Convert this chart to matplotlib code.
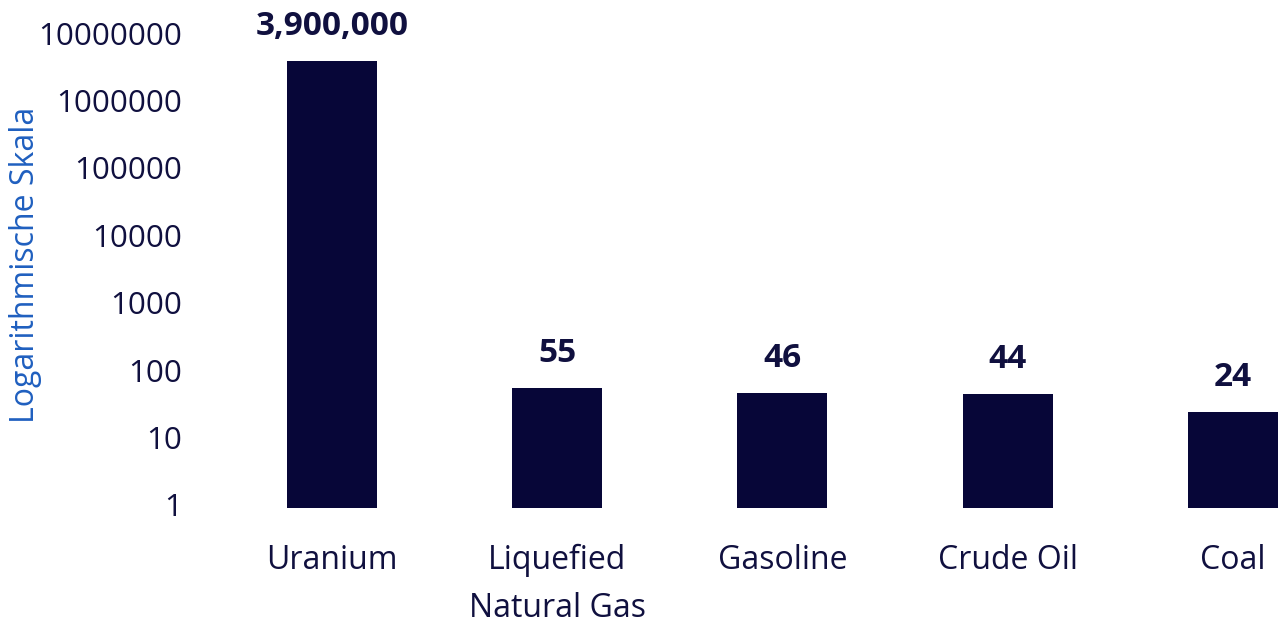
import matplotlib
matplotlib.use("Agg")
import matplotlib.pyplot as plt
from matplotlib.ticker import FixedLocator, FixedFormatter

categories = ["Uranium", "Liquefied\nNatural Gas", "Gasoline", "Crude Oil", "Coal"]
values = [3900000, 55, 46, 44, 24]
value_labels = ["3,900,000", "55", "46", "44", "24"]
yticks = [1, 10, 100, 1000, 10000, 100000, 1000000, 10000000]
ytick_labels = ["1", "10", "100", "1000", "10000", "100000", "1000000", "10000000"]

plt.rcParams['font.family'] = ['Open Sans', 'DejaVu Sans']
bar_color = "#070638"
text_color = "#10103f"

fig = plt.figure(figsize=(12.78, 6.24), dpi=100)
ax = fig.add_axes([190/1278, (624-508)/624, 1 - 190/1278, 508/624])
ax.set_yscale("log")
ybot = 0.9
ax.set_ylim(ybot, 10**7.49)
x = list(range(len(categories)))
ax.bar(x, [v - ybot for v in values], bottom=ybot, width=0.4, color=bar_color)
ax.set_xlim(-0.63, 4.2)

for xi, v, lab in zip(x, values, value_labels):
    ax.annotate(lab, (xi, v), xytext=(0, 13), textcoords="offset points",
                ha="center", va="bottom", fontsize=24, fontweight="bold", color=text_color)

ax.yaxis.set_major_locator(FixedLocator(yticks))
ax.yaxis.set_major_formatter(FixedFormatter(ytick_labels))
ax.yaxis.set_minor_locator(FixedLocator([]))
ax.set_xticks(x)
ax.set_xticklabels(categories, linespacing=1.6)
ax.tick_params(axis="y", length=0, labelsize=22.5, labelcolor=text_color, pad=6)
ax.tick_params(axis="x", length=0, labelsize=23, labelcolor=text_color, pad=26)
for s in ax.spines.values():
    s.set_visible(False)
ax.set_ylabel("Logarithmische Skala", fontsize=23, color="#1f5fbf")
ax.yaxis.set_label_coords(-0.136, 0.478)

fig.savefig("out.png", dpi=100)
